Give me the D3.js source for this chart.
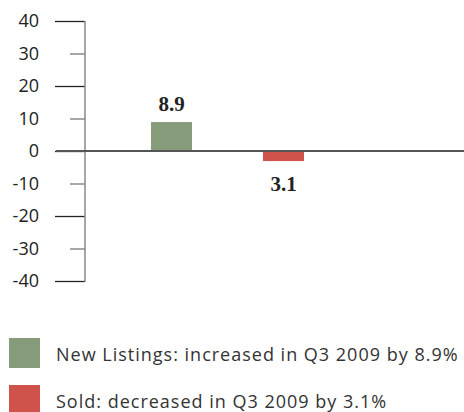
<!DOCTYPE html>
<html>
<head>
<meta charset="utf-8">
<script src="https://cdn.jsdelivr.net/npm/d3@7"></script>
<style>
body{margin:0;background:#fff;}
svg{display:block;}
.tick text{font-family:"Open Sans",sans-serif;font-size:18px;fill:#222;}
</style>
</head>
<body>
<script>
// data
var categories = ["New Listings", "Sold"];
var values = [8.9, -3.1];
var labels = ["8.9", "3.1"];
var colors = ["#859b79", "#d0534b"];
var legendText = ["New Listings: increased in Q3 2009 by 8.9%", "Sold: decreased in Q3 2009 by 3.1%"];
var majorTicks = [40, 20, 0, -20, -40];
var minorTicks = [30, 10, -10, -30];

var width = 464, height = 412;
var barW = 41;
var svg = d3.select("body").append("svg").attr("width", width).attr("height", height);

var y = d3.scaleLinear().domain([-40, 40]).range([281, 21]);
var x = d3.scalePoint().domain(categories).range([171.5, 283.5]);

// major ticks with labels
var axisMajor = d3.axisLeft(y).tickValues(majorTicks).tickSize(30).tickPadding(16).tickFormat(function(d){ return String(d); });
var gMaj = svg.append("g").attr("transform", "translate(85,0)").call(axisMajor);
gMaj.select(".domain").remove();
gMaj.selectAll(".tick line").attr("stroke", "#222").attr("stroke-width", 1.3);

// minor ticks
var axisMinor = d3.axisLeft(y).tickValues(minorTicks).tickSize(15).tickPadding(31).tickFormat(function(d){ return String(d); });
var gMin = svg.append("g").attr("transform", "translate(85,0)").call(axisMinor);
gMin.select(".domain").remove();
gMin.selectAll(".tick line").attr("stroke", "#777").attr("stroke-width", 1.3);

// vertical axis line
svg.append("line").attr("x1", 85).attr("x2", 85).attr("y1", y(40)).attr("y2", y(-40) + 1)
  .attr("stroke", "#888").attr("stroke-width", 1.5);

// bars
svg.selectAll("rect.bar").data(values).enter().append("rect")
  .attr("class", "bar")
  .attr("x", function(d, i){ return x(categories[i]) - barW / 2; })
  .attr("width", barW)
  .attr("y", function(d){ return y(Math.max(0, d)); })
  .attr("height", function(d){ return Math.abs(y(d) - y(0)); })
  .attr("fill", function(d, i){ return colors[i]; });

// zero line
svg.append("line").attr("x1", 56).attr("x2", width).attr("y1", y(0)).attr("y2", y(0))
  .attr("stroke", "#555").attr("stroke-width", 1.8);

// value labels
svg.selectAll("text.val").data(values).enter().append("text")
  .attr("class", "val")
  .attr("x", function(d, i){ return x(categories[i]); })
  .attr("y", function(d){ return d > 0 ? y(d) - 11.5 : y(d) + 30; })
  .attr("text-anchor", "middle")
  .attr("font-family", "'Liberation Serif', serif")
  .attr("font-weight", "bold")
  .attr("font-size", 21)
  .attr("fill", "#222")
  .text(function(d, i){ return labels[i]; });

// legend
var leg = svg.selectAll("g.leg").data(legendText).enter().append("g")
  .attr("class", "leg")
  .attr("transform", function(d, i){ return "translate(9," + (338 + i * 47) + ")"; });
leg.append("rect").attr("width", 31).attr("height", 30).attr("fill", function(d, i){ return colors[i]; });
leg.append("text").attr("x", 47).attr("y", 23)
  .attr("font-family", "'Open Sans', sans-serif").attr("font-size", 18).attr("letter-spacing", 1)
  .attr("fill", "#333")
  .text(function(d){ return d; });
</script>
</body>
</html>
